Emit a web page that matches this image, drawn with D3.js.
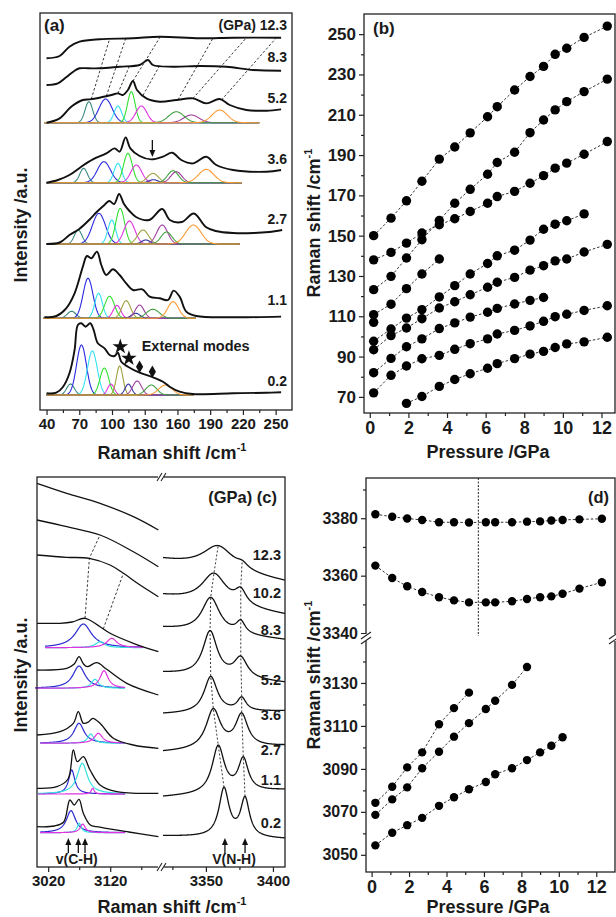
<!DOCTYPE html>
<html>
<head>
<meta charset="utf-8">
<script src="https://cdn.jsdelivr.net/npm/d3@7.9.0/dist/d3.min.js"></script>
<style>
  body { margin: 0; background: #fff; }
  text { font-family: "Liberation Sans", Arial, sans-serif; font-weight: bold; fill: #1a1a1a; }
</style>
</head>
<body>
<script>
// ---------- panel (a): low-frequency Raman spectra ----------
const pressA = ['0.2', '1.1', '2.7', '3.6', '5.2', '8.3', '12.3'];
const baseA = [15, 91.7, 166, 227.3, 287.3, 325, 351.7];      // zero level of each trace (a.u.)
const labelA = [24, 105, 186, 246, 307, 348, 380];             // height of the pressure label (a.u.)
// black traces: [Raman shift, intensity above zero level]
const specA = [
  [[40,1.7],[49,2.3],[55,8],[61,21.7],[65.7,45],[68.7,70],[71.8,71.7],[75.8,68.3],[80,71.7],[83,65.7],[87,51.7],[93.2,46.7],[97.8,40],[102.4,39],[105.4,42.3],[108.5,33.3],[114.6,28.3],[125.3,22.3],[136,18.3],[146.7,13.3],[152.8,8.3],[162,3.3],[174,1],[211,1.7],[241.6,2.3],[255,2.7]],
  [[38,1],[49,2.3],[58,10],[65.7,25],[73.3,51.7],[77,62.3],[81,60],[86.2,66.7],[90.2,53.3],[94.7,43.3],[100.8,49],[107,43.3],[113,35],[119.2,28.3],[127.8,29],[134.5,21.7],[143.6,20],[151.3,18.3],[156.5,27.7],[162,21.7],[168.1,6.7],[177.3,2.3],[211,1],[255,1.7]],
  [[40,0],[52,1.5],[61,9],[70,15],[79,24],[86,32],[92,38],[97.5,43],[102,40],[106.5,50],[111,40],[116,33],[122,27],[134,24],[146,35],[153,24],[164,22],[175,30.5],[186,17],[195,13],[211,11],[230,11],[244,12],[256,14]],
  [[40,0],[50.4,2.7],[61,7.7],[71.8,16],[82.5,23.3],[94.8,29.3],[102.4,34.3],[107,31],[112.5,45.3],[116.8,34.3],[125.3,26.7],[136,23.3],[146.7,26],[155.2,30],[163.5,22.7],[174.2,19.3],[186.4,26],[195.6,17.7],[211,12.7],[241.6,11],[255,12.7]],
  [[40,0],[52,4.3],[62.6,16],[73.3,22.7],[79.4,23.3],[88.6,25],[99.4,27.7],[105.4,29.3],[110,27.7],[114.6,32.7],[119.2,41.7],[122.9,32.7],[131.5,24.3],[143.7,21],[159,22.7],[174.2,24.3],[186.4,19.3],[198.7,23.7],[207.9,17.7],[223.2,12.7],[241.6,12],[255,13.3]],
  [[40,0],[50.4,1.7],[58,7.7],[65.7,14.3],[70.3,16.7],[78.2,16.7],[88.6,16.7],[107,18.3],[125.3,20],[133,25],[137.5,20],[155.9,18.3],[180.4,19],[204.9,18.3],[229.3,15],[255,14.3]],
  [[40,0],[52,2.3],[61,11.6],[70.3,16.6],[88.6,19],[119,20],[143.6,21.6],[180.4,20],[211,20.6],[255,20.6]]
];
// fitted components: [centre, height, sigma, colour index]
const compColorsA = ['#3a8a80', '#2a2ae0', '#33e0f0', '#33e033', '#e033e0', '#a0a040', '#3030a0', '#a040a0', '#40a040', '#ff9933'];
const compRangeA = [[40, 175], [37, 177], [40, 217], [40, 219], [38, 235]];
const compA = [
  [[62,11,3.5,0],[72,50,4.5,1],[82,44,4.5,2],[93,27,4,3],[99,11,3,4],[107,29,3,5],[115,11,3,6],[123,14,4,7],[136,10,5,8],[149,10,6,9]],
  [[63,7,4,0],[78,40,4.5,1],[87.7,25,3.5,2],[97.8,22,4.5,3],[104.5,13,3.5,4],[113,17.7,4,5],[121.7,5,4,6],[125.3,13.3,4,7],[137.5,9,6,8],[156,16.7,5,9]],
  [[69,14,3.5,0],[88,30.7,6,1],[99.8,24,3.5,2],[107.5,35.7,4,3],[116,23,5,4],[128.4,14,5,5],[131,4,4,6],[146,19,5,7],[150,12,5,8],[174.6,19,7,9]],
  [[74,14.3,3.5,0],[92.6,21,6,1],[105.4,19.3,3.5,2],[114.6,29.3,4,3],[122.3,17.7,5,4],[137.5,9.3,5,5],[138,3,4,6],[159,11,5,7],[155.9,12,5,8],[186.4,13.3,7,9]],
  [[78.8,21,3.5,0],[94.1,23.7,6,1],[105.4,16.7,3.5,2],[117.7,31,3.5,3],[126.9,16.7,5,4],[172.7,7.7,7,7],[159,11,7,8],[198.7,12.7,7,9]]
];
// guide lines from the 5.2 GPa trace: [shift at 5.2, shift at target, target row]
const guideA = [[81,97.8,6],[94.8,112.5,6],[105.4,116.1,5],[119.2,144.3,6],[128.4,143.7,5],[160.5,192.6,6],[174.2,223.2,6],[200.3,250.7,6]];
const markersA = [[107.6, 63.3, 'star'], [115.5, 51.7, 'star'], [125.3, 43.3, 'diamond'], [137, 38.3, 'diamond']];
const arrowA = [137, 270, 253];
const ticksA = d3.range(40, 251, 30), minorA = d3.range(55, 251, 30);

// ---------- panel (b): low-frequency modes vs pressure ----------
const pressB = [0.2, 1.1, 1.9, 2.7, 3.6, 4.4, 5.2, 6.1, 6.6, 7.5, 8.3, 9.0, 9.6, 10.2, 11.1, 12.3];
const _ = null;
const b1 = [150,158.7,167.3,177,188,194,201,209,214,222.3,229,234,240,243,248.4,254];
const b2 = [123.2,129.8,138.9,148,157.5,166.1,173,180.5,186.3,191.4,201.1,207.4,212.4,216.5,221.5,227.7];
const b3 = [138,141.7,146.3,151.3,155.4,158.4,162,166.1,169.4,172,176,179.8,183.5,186,190.4,196.7];
const b4 = [110.8,116,123.7,131,138.4,_,_,_,_,_,_,_,_,_,_,_];
const b5 = [97.6,103.7,109.1,113.3,119.6,125.2,131,136.2,140,142.8,147.8,153.2,155.7,157.4,160.8,_];
const b6 = [93.4,100.4,104.2,108.8,114.1,117.2,120.7,124.4,126.9,129.3,132.9,135.1,137.5,138.4,141.9,145.7];
const b7 = [82,89.1,94.9,98.8,103.9,106.7,109.6,112,113.9,116.1,117.9,119.3,_,_,_,_];
const b8 = [72,80.7,85.3,88.9,90.6,93.6,96.4,98.8,101.2,103,105.2,107.5,109.8,111,112.9,115.2];
const b9 = [_,_,66.8,70.2,75.2,78.6,81.5,84.2,86.5,89,91.2,92.6,94.5,96.3,97.3,99.6];
const b10 = [107,_,_,_,_,_,_,_,_,_,_,_,_,_,_,_];
const seriesB = [b1, b2, b3, b4, b5, b6, b7, b8, b9, b10];

// ---------- panel (c): C-H and N-H stretching spectra ----------
const pressC = ['0.2', '1.1', '2.7', '3.6', '5.2', '8.3', '10.2', '12.3'];
const labelC = [39, 82, 112, 147, 182, 232, 269, 307];
// left part (C-H region): [Raman shift, intensity]
const specCL = [
  [[3002,40.3],[3030,41],[3045,45],[3055,67],[3062,62],[3069.7,67.7],[3076.7,53.7],[3088,42],[3098.3,40.3],[3150,35],[3197.6,30.3]],
  [[3002,78.7],[3034,80.3],[3052,88],[3060.5,117],[3067,105.3],[3076.7,110.3],[3087.5,97],[3103.6,82],[3130.5,75.3],[3197.6,73.7]],
  [[3002,132],[3039,135.3],[3060.5,143.7],[3068.6,155.3],[3076.7,143.7],[3085,145],[3092,148.7],[3103.6,143.7],[3125,128.7],[3157,122],[3197.6,118.7]],
  [[3002,197],[3050,198.7],[3062,203],[3069.7,210.3],[3077,203],[3083,200.3],[3098.3,204.3],[3114.4,197.7],[3146.7,183.7],[3197.6,172]],
  [[3002,243.7],[3039,243.7],[3058.5,245],[3079.4,248.7],[3103.6,240.3],[3119.7,233.7],[3157.3,223.7],[3197.6,215.3]],
  [[3002,312],[3050,309.7],[3086.4,308.7],[3119.7,302],[3141.2,293.7],[3168.1,282],[3197.6,270.3]],
  [[3002,347],[3050,340.3],[3103.6,332],[3157.3,315.3],[3197.6,300.3]],
  [[3002,383.7],[3050,373.7],[3103.6,363.7],[3157.3,350.3],[3197.6,337]]
];
const compColorsC = ['#2a2ad0', '#33e0e0', '#e033e0'];
const compBaseC = [34.3, 73, 123.7, 178.7, 219.3];
const compRangeC = [[3007,3144],[3004,3144],[3007,3144],[2999,3144],[3015,3173]];
// [centre, height, half width, colour index]
const compC = [
  [[3056.8,22,9,0],[3070.2,9.4,4,1],[3075.7,8.7,5,2]],
  [[3058,24,6,0],[3075,30.7,10,1],[3091.8,5.7,3,2]],
  [[3069.7,20,10,0],[3088.6,9.3,6,1],[3100.9,10,8,2]],
  [[3069.7,22.3,12,0],[3095.5,9,7,1],[3110,17.6,8,2]],
  [[3076.7,23.7,16,0],[3103.6,6,9,1],[3122.5,9.4,10,2]]
];
const guideCL = [[[4,3079.4],[5,3086.4],[6,3103.6]], [[4,3108.9],[5,3141.2]]];
// right part (N-H region): background at both ends and two bands [centre, height, half width]
const bgCR = [[31,28],[70,77],[115,121],[153,156],[194,184],[239,227],[271,252],[307,285]];
const pkCR = [
  [[3363.5,48,4.5],[3379.2,38,4]],
  [[3359.2,47,5.5],[3377.9,32,4.5]],
  [[3355.5,39,6.5],[3376.7,32,5.5]],
  [[3353.6,36,6],[3376.7,13,4]],
  [[3353.1,45,6.5],[3376,20,6]],
  [[3353.6,35,8],[3376,12,4]],
  [[3356,30,11],[3376,14,5]],
  [[3359.2,24,14],[3377.1,5,5]]
];
const arrowsCL = [3052.5, 3068.6, 3079.4];
const arrowsCR = [3364.2, 3379.2];

// ---------- panel (d): stretching modes vs pressure ----------
const pressD = pressB;
const nhHigh = [3381.4,3380.5,3379.9,3379.4,3378.6,3378.6,3378.5,3378.6,3378.6,3378.6,3378.8,3378.9,3379.2,3379.4,3379.6,3379.8];
const nhLow = [3363.5,3359.2,3356.3,3354.3,3352.5,3351.4,3350.7,3350.7,3350.7,3351.1,3351.9,3352.5,3352.8,3353.7,3355.5,3357.7];
const chA = [3074.2,3081.7,3090.7,3097.7,3110.8,3118.3,3125.5];
const chB = [3068.6,3075.8,3081.4,3090.3,3098,3105,3111.3,3117.9,3121.7,3129.1,3137.4];
const chC = [3054.4,3060.3,3063.8,3067.2,3072.8,3076.8,3080.5,3083.9,3087.5,3090.3,3094.1,3097.7,3100.8,3104.7];
const transitionP = 5.7;

// ---------- helpers ----------
const svg = d3.select('body').append('svg').attr('width', 616).attr('height', 917);
svg.append('rect').attr('width', 616).attr('height', 917).attr('fill', '#fff');

const gauss = (x, c, h, s) => h * Math.exp(-((x - c) ** 2) / (2 * s * s));
const lorentz = (x, c, h, w) => h / (1 + ((x - c) / w) ** 2);
function valueAt(pts, x) {
  for (let i = 1; i < pts.length; i++) {
    if (x <= pts[i][0]) {
      const [x0, y0] = pts[i - 1], [x1, y1] = pts[i];
      return y0 + (y1 - y0) * (x - x0) / (x1 - x0);
    }
  }
  return pts[pts.length - 1][1];
}

function box(x0, y0, x1, y1) {
  svg.append('rect').attr('x', x0).attr('y', y0).attr('width', x1 - x0).attr('height', y1 - y0)
    .attr('fill', 'none').attr('stroke', '#222').attr('stroke-width', 1.3);
}

function addAxis(axisFn, scale, major, minor, tx, ty, size) {
  const g = svg.append('g').attr('transform', `translate(${tx},${ty})`);
  g.call(axisFn(scale).tickValues(major).tickFormat(d3.format('d')).tickSize(5).tickPadding(3).tickSizeOuter(0));
  g.append('g').call(axisFn(scale).tickValues(minor).tickSize(3).tickFormat('').tickSizeOuter(0));
  g.selectAll('.domain').remove();
  g.attr('font-size', size);
  g.selectAll('line').attr('stroke', '#222').attr('stroke-width', 1.2);
  return g;
}

function title(x, y, txt, sup, rotate) {
  const t = svg.append('text').attr('text-anchor', 'middle').attr('font-size', 18)
    .attr('transform', `translate(${x},${y})` + (rotate ? ' rotate(-90)' : ''));
  t.append('tspan').text(txt);
  if (sup) t.append('tspan').attr('dy', -8).attr('font-size', 11).text(sup);
}

function label(x, y, txt, size, anchor = 'end') {
  svg.append('text').attr('x', x).attr('y', y).attr('font-size', size).attr('text-anchor', anchor).text(txt);
}

function arrowUp(x, yTail, yTip, down) {
  const dir = down ? -1 : 1;
  svg.append('line').attr('x1', x).attr('x2', x).attr('y1', yTail).attr('y2', yTip + dir * 4)
    .attr('stroke', '#111').attr('stroke-width', 1.3);
  svg.append('path').attr('fill', '#111')
    .attr('d', `M${x},${yTip} L${x - 3},${yTip + dir * 7} L${x + 3},${yTip + dir * 7} Z`);
}

function breakMark(x, y, vertical) {
  if (vertical) {
    svg.append('rect').attr('x', x - 5).attr('y', y - 3).attr('width', 10).attr('height', 7).attr('fill', '#fff');
    [0, 5].forEach(o => svg.append('line').attr('x1', x - 5).attr('y1', y + o + 2).attr('x2', x + 5).attr('y2', y + o - 5)
      .attr('stroke', '#222').attr('stroke-width', 1.1));
  } else {
    svg.append('rect').attr('x', x - 2).attr('y', y - 4).attr('width', 6).attr('height', 8).attr('fill', '#fff');
    [0, 4].forEach(o => svg.append('line').attr('x1', x - 3 + o).attr('y1', y + 4).attr('x2', x + 2 + o).attr('y2', y - 4)
      .attr('stroke', '#222').attr('stroke-width', 1.1));
  }
}

// ---------- panel (a) ----------
const xA = d3.scaleLinear().domain([34, 265]).range([40, 292]);
const yA = d3.scaleLinear().domain([0, 397]).range([410, 13]);
const lineA = d3.line().x(d => xA(d[0])).y(d => yA(d[1])).curve(d3.curveCatmullRom.alpha(0.5));

compA.forEach((peaks, i) => {
  const [r0, r1] = compRangeA[i];
  peaks.forEach(([c, h, s, ci]) => {
    const pts = d3.range(r0, r1 + 0.01, 0.5).map(x => [x, baseA[i] + gauss(x, c, h, s)]);
    svg.append('path').attr('d', d3.line().x(d => xA(d[0])).y(d => yA(d[1]))(pts))
      .attr('fill', 'none').attr('stroke', compColorsA[ci]).attr('stroke-width', 1.1);
  });
});

guideA.forEach(([c0, c1, row]) => {
  svg.append('line')
    .attr('x1', xA(c0)).attr('y1', yA(baseA[4] + valueAt(specA[4], c0)))
    .attr('x2', xA(c1)).attr('y2', yA(baseA[row] + valueAt(specA[row], c1)))
    .attr('stroke', '#222').attr('stroke-width', 0.9).attr('stroke-dasharray', '2.5,2');
});

specA.forEach((pts, i) => {
  svg.append('path').attr('d', lineA(pts.map(p => [p[0], baseA[i] + p[1]])))
    .attr('fill', 'none').attr('stroke', '#111').attr('stroke-width', 1.9);
  const txt = i === pressA.length - 1 ? '(GPa) ' + pressA[i] : pressA[i];
  label(287, yA(labelA[i]), txt, 14);
});

markersA.forEach(([x, y, t]) => {
  svg.append('path')
    .attr('d', d3.symbol().type(t === 'star' ? d3.symbolStar : d3.symbolDiamond).size(t === 'star' ? 75 : 45)())
    .attr('transform', `translate(${xA(x)},${yA(y)})`).attr('fill', '#111');
});
label(xA(127.2), yA(59), 'External modes', 14.5, 'start');
arrowUp(xA(arrowA[0]), yA(arrowA[1]), yA(arrowA[2]), true);

box(40, 13, 292, 410);
addAxis(d3.axisBottom, xA, ticksA, minorA, 0, 410, 15);
label(44, 31, '(a)', 17, 'start');
title(172, 459, 'Raman shift /cm', '-1');
title(27, 225, 'Intensity /a.u.', null, true);

// ---------- panel (b) ----------
const xB = d3.scaleLinear().domain([-0.3, 12.7]).range([364, 615]);
const yB = d3.scaleLinear().domain([62, 260]).range([413, 14]);
const lineB = d3.line().defined(d => d[1] !== null).x(d => xB(d[0])).y(d => yB(d[1]));
seriesB.forEach(s => {
  const pts = pressB.map((p, i) => [p, s[i]]);
  svg.append('path').attr('d', lineB(pts)).attr('fill', 'none')
    .attr('stroke', '#333').attr('stroke-width', 1).attr('stroke-dasharray', '2.5,2');
  svg.append('g').selectAll('circle').data(pts.filter(d => d[1] !== null)).join('circle')
    .attr('cx', d => xB(d[0])).attr('cy', d => yB(d[1])).attr('r', 4.7).attr('fill', '#000');
});
box(364, 14, 615, 413);
addAxis(d3.axisLeft, yB, d3.range(70, 251, 20), d3.range(80, 260, 20), 364, 0, 17);
addAxis(d3.axisBottom, xB, d3.range(0, 13, 2), d3.range(1, 12, 2), 0, 413, 18);
label(373, 34, '(b)', 17, 'start');
title(488, 458, 'Pressure /GPa');
title(320, 223, 'Raman shift /cm', '-1', true);

// ---------- panel (c) ----------
const xCL = d3.scaleLinear().domain([3002, 3197]).range([37, 158]);
const xCR = d3.scaleLinear().domain([3318, 3409]).range([163, 285]);
const yC = d3.scaleLinear().domain([0, 390]).range([867, 477]);
const lineCL = d3.line().x(d => xCL(d[0])).y(d => yC(d[1])).curve(d3.curveCatmullRom.alpha(0.5));
const lineCR = d3.line().x(d => xCR(d[0])).y(d => yC(d[1]));

compC.forEach((peaks, i) => {
  const [r0, r1] = compRangeC[i];
  peaks.forEach(([c, h, w, ci]) => {
    const pts = d3.range(r0, r1 + 0.01, 0.5).map(x => [x, compBaseC[i] + lorentz(x, c, h, w)]);
    svg.append('path').attr('d', d3.line().x(d => xCL(d[0])).y(d => yC(d[1]))(pts))
      .attr('fill', 'none').attr('stroke', compColorsC[ci]).attr('stroke-width', 1.2);
  });
});

const rightValue = (i, x) => bgCR[i][0] + (bgCR[i][1] - bgCR[i][0]) * (x - 3318) / 91 +
  d3.sum(pkCR[i], ([c, h, w]) => lorentz(x, c, h, w));

guideCL.forEach(g => {
  svg.append('path')
    .attr('d', d3.line().x(d => xCL(d[1])).y(d => yC(valueAt(specCL[d[0]], d[1])))(g))
    .attr('fill', 'none').attr('stroke', '#222').attr('stroke-width', 0.9).attr('stroke-dasharray', '2.5,2');
});
[0, 1].forEach(k => {
  const pts = pkCR.map((pk, i) => [pk[k][0], rightValue(i, pk[k][0])]);
  svg.append('path').attr('d', lineCR(pts)).attr('fill', 'none')
    .attr('stroke', '#222').attr('stroke-width', 0.9).attr('stroke-dasharray', '2,2');
});

specCL.forEach((pts, i) => {
  svg.append('path').attr('d', lineCL(pts)).attr('fill', 'none').attr('stroke', '#111').attr('stroke-width', 1.3);
  const ptsR = d3.range(3318, 3409.01, 0.25).map(x => [x, rightValue(i, x)]);
  svg.append('path').attr('d', lineCR(ptsR)).attr('fill', 'none').attr('stroke', '#111').attr('stroke-width', 1.3);
  label(281, yC(labelC[i]), pressC[i], 14.5);
});

arrowsCL.forEach(c => arrowUp(xCL(c), yC(14), yC(29)));
arrowsCR.forEach(c => arrowUp(xCR(c), yC(14), yC(29)));
label(xCL(3066), 864, 'v(C-H)', 14, 'middle');
label(xCR(3371), 864, 'V(N-H)', 14, 'middle');

box(37, 477, 285, 867);
addAxis(d3.axisBottom, xCL, [3020, 3120], [3070, 3170], 0, 867, 15);
addAxis(d3.axisBottom, xCR, [3350, 3400], [3325, 3375], 0, 867, 15);
breakMark(160, 477, false);
breakMark(160, 867, false);
label(277, 503, '(GPa) (c)', 16.5);
title(172, 913, 'Raman shift /cm', '-1');
title(27, 675, 'Intensity /a.u.', null, true);

// ---------- panel (d) ----------
const xD = d3.scaleLinear().domain([-0.3, 13]).range([366, 615]);
const yDU = d3.scaleLinear().domain([3339, 3394]).range([636, 478]);
const yDL = d3.scaleLinear().domain([3042, 3150]).range([872, 640]);
function seriesD(vals, y) {
  const pts = vals.map((v, i) => [pressD[i], v]);
  svg.append('path').attr('d', d3.line().x(d => xD(d[0])).y(d => y(d[1]))(pts))
    .attr('fill', 'none').attr('stroke', '#333').attr('stroke-width', 1).attr('stroke-dasharray', '2.5,2');
  svg.append('g').selectAll('circle').data(pts).join('circle')
    .attr('cx', d => xD(d[0])).attr('cy', d => y(d[1])).attr('r', 4.2).attr('fill', '#000');
}
svg.append('line').attr('x1', xD(transitionP)).attr('x2', xD(transitionP)).attr('y1', 478).attr('y2', 636)
  .attr('stroke', '#222').attr('stroke-width', 1).attr('stroke-dasharray', '2,1.5');
seriesD(nhHigh, yDU);
seriesD(nhLow, yDU);
seriesD(chA, yDL);
seriesD(chB, yDL);
seriesD(chC, yDL);

box(366, 478, 615, 872);
addAxis(d3.axisLeft, yDU, [3340, 3360, 3380], [3350, 3370, 3390], 366, 0, 16);
addAxis(d3.axisLeft, yDL, d3.range(3050, 3131, 20), d3.range(3060, 3141, 20), 366, 0, 16);
addAxis(d3.axisBottom, xD, d3.range(0, 13, 2), d3.range(1, 12, 2), 0, 872, 18);
breakMark(366, 637, true);
breakMark(614, 637, true);
label(609, 503, '(d)', 16.5);
title(488, 913, 'Pressure /GPa');
title(320, 675, 'Raman shift /cm', '-1', true);
</script>
</body>
</html>
